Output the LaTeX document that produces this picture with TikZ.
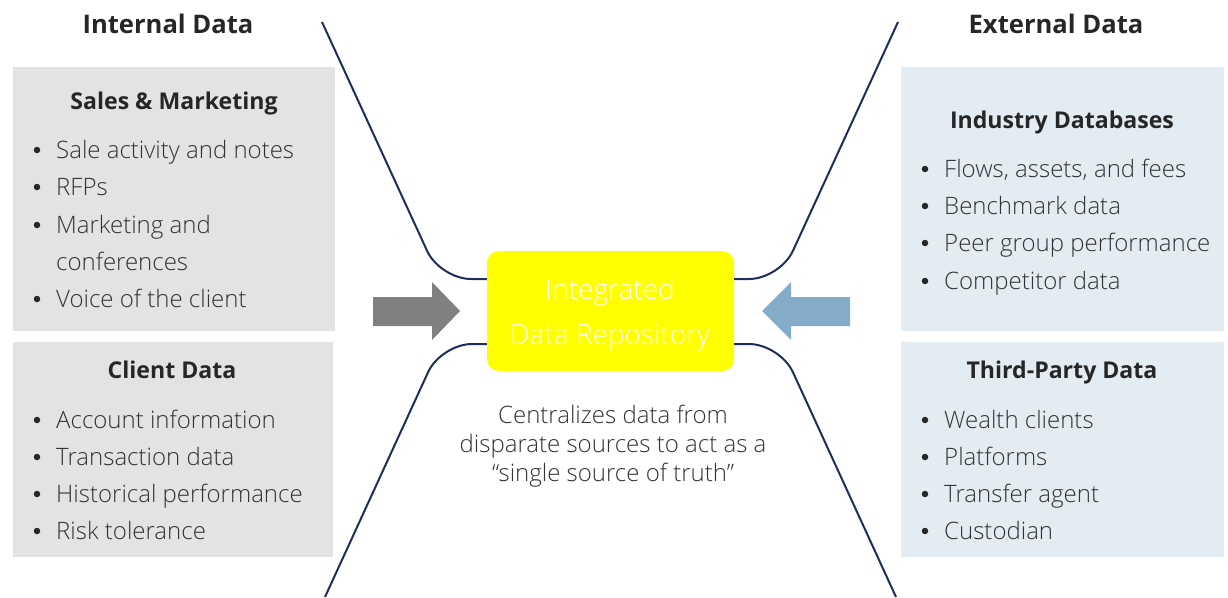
\documentclass[tikz,border=0pt]{standalone}
\usepackage{fontspec}
\setmainfont{Open Sans}
\newfontfamily\lightfont{Open Sans Light}
\definecolor{graybox}{HTML}{E3E3E3}
\definecolor{bluebox}{HTML}{E3EBF3}
\definecolor{navy}{HTML}{1F2D5C}
\definecolor{textgray}{HTML}{333333}
\definecolor{headgray}{HTML}{262626}
\definecolor{grayarrow}{HTML}{808080}
\definecolor{bluearrow}{HTML}{84ACC8}
\definecolor{repoyellow}{HTML}{FFFF00}
\begin{document}
\begin{tikzpicture}[x=1pt,y=-1pt,
  txt/.style={anchor=base west, inner sep=0pt, font=\lightfont\fontsize{24}{28}\selectfont, text=textgray},
  ctxt/.style={anchor=base, inner sep=0pt, font=\lightfont\fontsize{24}{28}\selectfont, text=textgray},
  hd/.style={anchor=base, inner sep=0pt, font=\bfseries\fontsize{23.1}{27}\selectfont, text=headgray},
  bighd/.style={anchor=base, inner sep=0pt, font=\bfseries\fontsize{25.6}{30}\selectfont, text=headgray},
  bul/.style={circle, fill=headgray, inner sep=0pt, minimum size=6.5pt},
  conn/.style={draw=navy, line width=2pt, rounded corners=31pt},
]
\useasboundingbox (0,0) rectangle (1228,597);
% panels
\fill[graybox] (13,67) rectangle (335,331);
\fill[graybox] (13,342) rectangle (333,557);
\fill[bluebox] (901,67) rectangle (1224,331);
\fill[bluebox] (901,342) rectangle (1224,557);
% top headings
\node[bighd] (intl) at (168,33) {Internal Data};
\node[bighd] (extl) at (1056,33) {External Data};
% Sales & Marketing
\node[hd] (smh) at (174,109) {Sales \& Marketing};
\node[bul] (smb1) at (37,150) {}; \node[txt] (sm1) at (56,158) {Sale activity and notes};
\node[bul] (smb2) at (37,187) {}; \node[txt] (sm2) at (56,195) {RFPs};
\node[bul] (smb3) at (37,225) {}; \node[txt] (sm3) at (56,233) {Marketing and};
\node[txt] (sm3b) at (56,270) {conferences};
\node[bul] (smb4) at (37,299) {}; \node[txt] (sm4) at (56,307) {Voice of the client};
% Client Data
\node[hd] (cdh) at (172,378) {Client Data};
\node[bul] (cdb1) at (37,420) {}; \node[txt] (cd1) at (56,428) {Account information};
\node[bul] (cdb2) at (37,457) {}; \node[txt] (cd2) at (56,465) {Transaction data};
\node[bul] (cdb3) at (37,494) {}; \node[txt] (cd3) at (56,502) {Historical performance};
\node[bul] (cdb4) at (37,531) {}; \node[txt] (cd4) at (56,539) {Risk tolerance};
% Industry Databases
\node[hd] (idh) at (1062,128) {Industry Databases};
\node[bul] (idb1) at (925,169) {}; \node[txt] (id1) at (944,177) {Flows, assets, and fees};
\node[bul] (idb2) at (925,206) {}; \node[txt] (id2) at (944,214) {Benchmark data};
\node[bul] (idb3) at (925,243) {}; \node[txt] (id3) at (944,251) {Peer group performance};
\node[bul] (idb4) at (925,281) {}; \node[txt] (id4) at (944,289) {Competitor data};
% Third-Party Data
\node[hd] (tph) at (1062,378) {Third-Party Data};
\node[bul] (tpb1) at (925,420) {}; \node[txt] (tp1) at (944,428) {Wealth clients};
\node[bul] (tpb2) at (925,457) {}; \node[txt] (tp2) at (944,465) {Platforms};
\node[bul] (tpb3) at (925,494) {}; \node[txt] (tp3) at (944,502) {Transfer agent};
\node[bul] (tpb4) at (925,531) {}; \node[txt] (tp4) at (944,539) {Custodian};
% central repository
\node[fill=repoyellow, rounded corners=12pt, minimum width=247pt, minimum height=120pt, inner sep=0pt] (repo) at (610.5,311) {};
\node[anchor=base, inner sep=0pt, font=\lightfont\fontsize{28}{32}\selectfont, text=white] (repo1) at (610,299) {Integrated};
\node[anchor=base, inner sep=0pt, font=\lightfont\fontsize{28}{32}\selectfont, text=white] (repo2) at (610,344) {Data Repository};
% caption
\node[ctxt] (cap1) at (613,423) {Centralizes data from};
\node[ctxt] (cap2) at (613,452) {disparate sources to act as a};
\node[ctxt] (cap3) at (613,481) {“single source of truth”};
% connectors
\coordinate (tl) at (322,22);
\coordinate (bl) at (325,597);
\coordinate (tr) at (898,22);
\coordinate (br) at (896,597);
\draw[conn] (tl) -- (440,279) -- (repo.west |- 0,279);
\draw[conn] (bl) -- (441,344) -- (repo.west |- 0,344);
\draw[conn] (tr) -- (780,279) -- (repo.east |- 0,279);
\draw[conn] (br) -- (780,344) -- (repo.east |- 0,344);
% block arrows
\fill[grayarrow] (373,297) -- (432,297) -- (432,282) -- (460,311) -- (432,340) -- (432,326) -- (373,326) -- cycle;
\fill[bluearrow] (850,297) -- (791,297) -- (791,282) -- (762,311) -- (791,340) -- (791,326) -- (850,326) -- cycle;
\end{tikzpicture}
\end{document}
